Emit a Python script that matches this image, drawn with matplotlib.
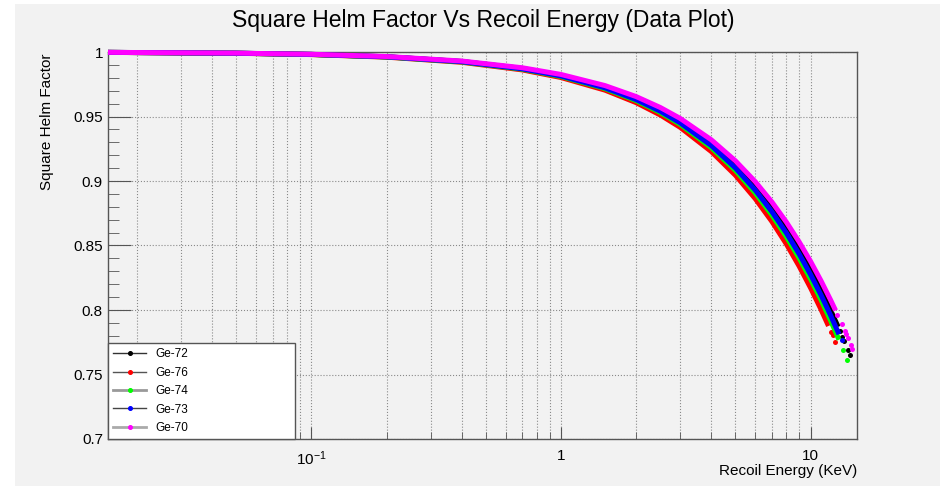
import numpy as np
import matplotlib
matplotlib.use('Agg')
import matplotlib.pyplot as plt
from matplotlib.lines import Line2D
from matplotlib.patches import Rectangle
from matplotlib.ticker import FixedLocator, LogLocator, MultipleLocator, NullFormatter, FuncFormatter

plt.rcParams['font.family'] = ['Liberation Sans', 'DejaVu Sans']
plt.rcParams['mathtext.fontset'] = 'custom'
plt.rcParams['mathtext.rm'] = 'Liberation Sans'
plt.rcParams['mathtext.it'] = 'Liberation Sans:italic'

# recoil energy (keV) vs squared Helm factor
# dense part of each band, then the sparse dots at the high energy end
e_ge72 = [0.0153, 0.05, 0.1, 0.2, 0.4, 0.7, 1, 1.5, 2, 2.5, 3, 4, 5, 6, 7, 8, 9, 10, 11, 12, 12.9]
f_ge72 = [0.99972, 0.99908, 0.99817, 0.99634, 0.99268, 0.98723, 0.98180, 0.97282, 0.96390, 0.95506, 0.94630,
          0.92898, 0.91195, 0.89519, 0.87872, 0.86251, 0.84658, 0.83091, 0.81549, 0.80034, 0.78692]
e_ge72_tail = [13.13, 13.41, 13.65, 14.12, 14.38]
f_ge72_tail = [0.78353, 0.77942, 0.77591, 0.76900, 0.76515]

e_ge76 = [0.0153, 0.05, 0.1, 0.2, 0.4, 0.7, 1, 1.5, 2, 2.5, 3, 4, 5, 6, 7, 8, 9, 10, 11, 11.8]
f_ge76 = [0.99969, 0.99900, 0.99800, 0.99601, 0.99203, 0.98610, 0.98020, 0.97043, 0.96074, 0.95115, 0.94164,
          0.92287, 0.90444, 0.88634, 0.86856, 0.85111, 0.83396, 0.81713, 0.80060, 0.78762]
e_ge76_tail = [12.11, 12.25, 12.57]
f_ge76_tail = [0.78262, 0.78039, 0.77529]

e_ge74 = [0.0153, 0.05, 0.1, 0.2, 0.4, 0.7, 1, 1.5, 2, 2.5, 3, 4, 5, 6, 7, 8, 9, 10, 11, 12, 13.0]
f_ge74 = [0.99971, 0.99904, 0.99809, 0.99618, 0.99236, 0.98667, 0.98101, 0.97163, 0.96233, 0.95312, 0.94398,
          0.92594, 0.90821, 0.89079, 0.87367, 0.85684, 0.84030, 0.82404, 0.80807, 0.79238, 0.77696]
e_ge74_tail = [13.53, 14.04]
f_ge74_tail = [0.76893, 0.76119]

e_ge73 = [0.0153, 0.05, 0.1, 0.2, 0.4, 0.7, 1, 1.5, 2, 2.5, 3, 4, 5, 6, 7, 8, 9, 10, 11, 12, 13.0]
f_ge73 = [0.99971, 0.99906, 0.99813, 0.99626, 0.99252, 0.98695, 0.98141, 0.97223, 0.96313, 0.95410, 0.94515,
          0.92747, 0.91009, 0.89301, 0.87621, 0.85969, 0.84346, 0.82749, 0.81180, 0.79638, 0.78121]
e_ge73_tail = [13.32]
f_ge73_tail = [0.77644]

e_ge70 = [0.0153, 0.05, 0.1, 0.2, 0.4, 0.7, 1, 1.5, 2, 2.5, 3, 4, 5, 6, 7, 8, 9, 10, 11, 12, 12.6]
f_ge70 = [0.99973, 0.99912, 0.99825, 0.99650, 0.99300, 0.98778, 0.98259, 0.97398, 0.96545, 0.95698, 0.94858,
          0.93197, 0.91563, 0.89954, 0.88371, 0.86813, 0.85279, 0.83770, 0.82284, 0.80823, 0.79960]
e_ge70_tail = [12.82, 13.32, 13.73, 13.86, 14.12, 14.47, 14.71]
f_ge70_tail = [0.79643, 0.78931, 0.78351, 0.78167, 0.77797, 0.77296, 0.76953]

labels = ['Ge-72', 'Ge-76', 'Ge-74', 'Ge-73', 'Ge-70']
colors = ['#000000', '#ff0000', '#00ff00', '#0000ff', '#ff00ff']
leg_line_colors = ['#333333', '#555555', '#999999', '#444444', '#aaaaaa']
leg_line_widths = [1.0, 1.0, 2.0, 1.0, 2.0]

series = [(e_ge72, f_ge72, e_ge72_tail, f_ge72_tail),
          (e_ge76, f_ge76, e_ge76_tail, f_ge76_tail),
          (e_ge74, f_ge74, e_ge74_tail, f_ge74_tail),
          (e_ge73, f_ge73, e_ge73_tail, f_ge73_tail),
          (e_ge70, f_ge70, e_ge70_tail, f_ge70_tail)]

bg = '#f2f2f2'
fig = plt.figure(figsize=(9.4, 4.86), dpi=100, facecolor='white')
fig.patches.append(Rectangle((15 / 940, 0), 1 - 15 / 940, 1 - 4 / 486, transform=fig.transFigure,
                             facecolor=bg, edgecolor='none', zorder=-10))

ax = fig.add_axes([108 / 940, 47 / 486, 749 / 940, 387 / 486])
ax.set_facecolor(bg)
ax.set_xscale('log')
ax.set_xlim(0.0153, 15.35)
ax.set_ylim(0.7, 1.0)

for (e, f, et, ft), c in zip(series, colors):
    ax.plot(e, f, color=c, lw=3.6, solid_capstyle='butt', solid_joinstyle='round', clip_on=False, zorder=3)
    ax.plot(et, ft, 'o', color=c, ms=3.6, mew=0, clip_on=False, zorder=3)

# grid and ticks
ax.xaxis.set_major_locator(FixedLocator([0.1, 1, 10]))
ax.set_xticklabels(['10$^{-1}$', '1', '10'])
ax.xaxis.set_minor_locator(LogLocator(base=10, subs=np.arange(2, 10), numticks=20))
ax.xaxis.set_minor_formatter(NullFormatter())
ax.yaxis.set_major_locator(MultipleLocator(0.05))
ax.yaxis.set_minor_locator(MultipleLocator(0.01))
ax.yaxis.set_major_formatter(FuncFormatter(lambda v, p: '%g' % round(v, 3)))

ax.grid(which='major', axis='both', linestyle=':', color='#8a8a8a', lw=0.8)
ax.grid(which='minor', axis='x', linestyle=':', color='#8a8a8a', lw=0.8)
ax.set_axisbelow(True)

ax.tick_params(axis='both', which='both', direction='in', color='#555555', labelsize=11,
               top=False, right=False)
ax.tick_params(axis='y', which='major', length=16.5, pad=3.6)
ax.tick_params(axis='y', which='minor', length=8)
ax.tick_params(axis='x', which='major', length=8.6, pad=7.5)
ax.tick_params(axis='x', which='minor', length=5)

for s in ax.spines.values():
    s.set_color('#555555')
    s.set_linewidth(1.0)

ax.set_xlabel('Recoil Energy (KeV)', fontsize=11, loc='right')
ax.xaxis.set_label_coords(1.0, -0.064)
ax.set_ylabel('Square Helm Factor', fontsize=11, loc='top')
ax.yaxis.set_label_coords(-0.072, 0.995)

fig.text(483.5 / 940, 1 - 20 / 486, 'Square Helm Factor Vs Recoil Energy (Data Plot)',
         ha='center', va='center', fontsize=16.5)

handles = [Line2D([], [], color=lc, lw=lw, marker='o', ms=2.6, mfc=c, mec=c)
           for c, lc, lw in zip(colors, leg_line_colors, leg_line_widths)]
leg = ax.legend(handles, labels, loc='lower left', bbox_to_anchor=(0, 0, 0.2497, 0.2488), mode='expand',
                fontsize=8.5, frameon=True, fancybox=False, borderpad=0.43, labelspacing=0.54,
                handlelength=2.8, handletextpad=0.75, borderaxespad=0)
leg.get_frame().set_edgecolor('#555555')
leg.get_frame().set_facecolor('white')
leg.get_frame().set_alpha(1)
leg.get_frame().set_linewidth(1.0)
leg.set_zorder(5)

fig.savefig('out.png', dpi=100, facecolor=fig.get_facecolor())
